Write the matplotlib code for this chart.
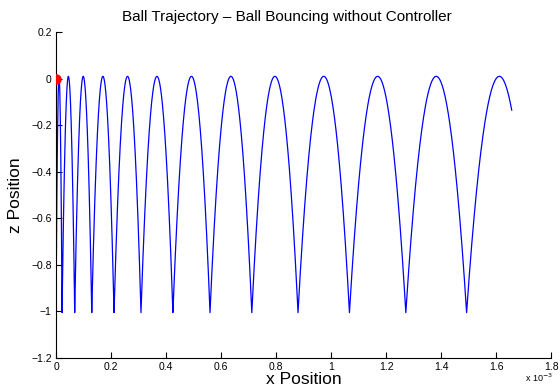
import numpy as np
import matplotlib
matplotlib.use("Agg")
import matplotlib.pyplot as plt

plt.rcParams['font.family'] = ['Liberation Sans', 'DejaVu Sans']

# Bounce positions (x, in units of 1e-3) where the ball hits z = -1
bounce_x = [0.0, 0.022, 0.068, 0.130, 0.211, 0.309, 0.425, 0.560, 0.712,
            0.880, 1.067, 1.272, 1.493]
# apex positions / heights of each arc
apex_x = [0.011, 0.045, 0.099, 0.1705, 0.260, 0.367, 0.4925, 0.636, 0.796,
          0.9735, 1.1695, 1.3825, 1.612]
apex_z = [0.01, 0.01, 0.01, 0.01, 0.01, 0.01, 0.01, 0.01, 0.01,
          0.01, 0.01, 0.01, 0.01]
end_x = 1.657
floor_z = -1.005
start_point = (0.0, 0.0)

xs = [start_point[0], bounce_x[0]]
zs = [start_point[1], floor_z]
for i in range(len(bounce_x)):
    x0 = bounce_x[i]
    xa = apex_x[i]
    x1 = bounce_x[i + 1] if i + 1 < len(bounce_x) else end_x
    hw = xa - x0
    seg = np.linspace(x0, x1, 200)
    u = np.clip((seg - xa) / hw, -1, 1)
    zseg = apex_z[i] - (apex_z[i] - floor_z) * u ** 2
    xs.extend(seg[1:])
    zs.extend(zseg[1:])

fig = plt.figure(figsize=(5.6, 3.87), dpi=100)
ax = fig.add_axes([0.1, 0.075, 0.884, 0.842])
ax.plot(xs, zs, color='#0000ff', lw=0.9)
ax.plot([start_point[0]], [start_point[1]], 'o', color='red', ms=6.5, zorder=5)

ax.set_xlim(0, 1.8)
ax.set_ylim(-1.2, 0.2)
ax.set_xticks(np.arange(0, 1.81, 0.2))
ax.set_xticklabels(['0', '0.2', '0.4', '0.6', '0.8', '1', '1.2', '1.4', '1.6', '1.8'])
ax.set_yticks(np.arange(-1.2, 0.21, 0.2))
ax.set_yticklabels(['\u22121.2', '\u22121', '\u22120.8', '\u22120.6', '\u22120.4', '\u22120.2', '0', '0.2'])
ax.tick_params(direction='in', length=4, width=0.8, labelsize=7.5, pad=3)
ax.spines['top'].set_visible(False)
ax.spines['right'].set_visible(False)
for s in ['left', 'bottom']:
    ax.spines[s].set_linewidth(0.8)

ax.set_xlabel('x Position', fontsize=12.5, labelpad=0)
ax.set_ylabel('z Position', fontsize=12.5, labelpad=6)
ax.set_title('Ball Trajectory \u2013 Ball Bouncing without Controller', fontsize=11, pad=8, x=0.467)
fig.text(0.937, 0.008, 'x 10$^{-3}$', fontsize=6.5, ha='left', va='bottom')

fig.savefig('out.png', dpi=100)
